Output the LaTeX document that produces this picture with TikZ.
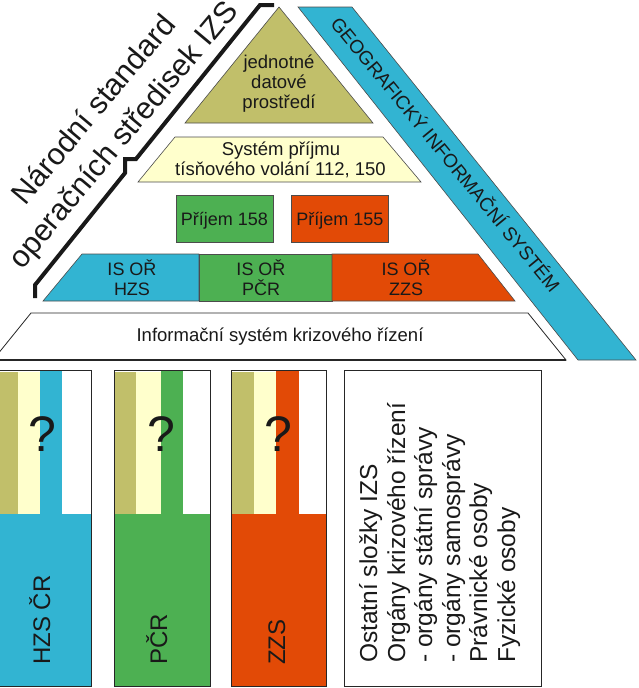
\documentclass[tikz,border=0pt]{standalone}
\usepackage{fontspec}
\setmainfont{Liberation Sans}
\definecolor{izsOlive}{RGB}{193,191,106}
\definecolor{izsYellow}{RGB}{255,255,204}
\definecolor{izsGreen}{RGB}{77,176,82}
\definecolor{izsRed}{RGB}{226,74,6}
\definecolor{izsBlue}{RGB}{50,180,210}
\definecolor{izsText}{RGB}{25,25,25}
\tikzset{
  edge/.style={draw=black!70, line width=0.6pt},
  txt/.style={inner sep=0pt, text=izsText, font=\fontsize{18.5}{20}\selectfont},
  qmark/.style={inner sep=0pt, text=izsText, font=\fontsize{50}{50}\selectfont},
  collabel/.style={inner sep=0pt, text=izsText, rotate=90, anchor=base west, font=\fontsize{24}{24}\selectfont},
  boxline/.style={inner sep=0pt, text=izsText, rotate=90, anchor=base west, font=\fontsize{24.5}{24.5}\selectfont},
  smallbox/.style={edge, minimum width=97pt, minimum height=47pt, inner sep=0pt, text=izsText,
     font=\fontsize{18}{18}\selectfont, text height=13pt, text depth=0pt},
}
\begin{document}
\begin{tikzpicture}[x=1pt,y=-1pt]
\useasboundingbox (0,0) rectangle (639,688);
\clip (0,0) rectangle (639,688);
% blue band
\draw[edge, fill=izsBlue] (298,7) -- (352,7) -- (636,360) -- (578,360) -- cycle;
\node[txt, font=\fontsize{19}{19}\selectfont, rotate=-50.6, anchor=base] (gis) at (440.2,158.8) {GEOGRAFICKÝ INFORMAČNÍ SYSTÉM};
% olive triangle
\draw[edge, fill=izsOlive] (279,7) -- (373,123) -- (185,123) -- cycle;
\node[txt, anchor=base] (jd1) at (279,68) {jednotné};
\node[txt, anchor=base] (jd2) at (279,88) {datové};
\node[txt, anchor=base] (jd3) at (279,108) {prostředí};
% yellow trapezoid
\draw[edge, fill=izsYellow] (175,137) -- (383,137) -- (421,182) -- (138,182) -- cycle;
\node[txt, anchor=base] (sp1) at (281,155) {Systém příjmu};
\node[txt, anchor=base] (sp2) at (280.5,175) {tísňového volání 112, 150};
% boxes
\node[smallbox, fill=izsGreen] (p158) at (224.5,218.5) {Příjem 158};
\node[smallbox, fill=izsRed] (p155) at (340,218.5) {Příjem 155};
% IS row
\draw[edge, fill=izsBlue] (82,254) -- (199,254) -- (199,301) -- (43,301) -- cycle;
\draw[edge, fill=izsGreen] (199,254) rectangle (332,301);
\draw[edge, fill=izsRed] (332,254) -- (478,254) -- (515,301) -- (332,301) -- cycle;
\node[txt, font=\fontsize{18}{18}\selectfont, anchor=base] (ish1) at (132,275) {IS OŘ};
\node[txt, font=\fontsize{18}{18}\selectfont, anchor=base] (ish2) at (132,295) {HZS};
\node[txt, font=\fontsize{18}{18}\selectfont, anchor=base] (isp1) at (261,275) {IS OŘ};
\node[txt, font=\fontsize{18}{18}\selectfont, anchor=base] (isp2) at (261,295) {PČR};
\node[txt, font=\fontsize{18}{18}\selectfont, anchor=base] (isz1) at (406,275) {IS OŘ};
\node[txt, font=\fontsize{18}{18}\selectfont, anchor=base] (isz2) at (406,295) {ZZS};
% white trapezoid
\draw[draw=black!85, line width=0.8pt, fill=white] (31,313) -- (528,313) -- (566,360) -- (-7,360) -- cycle;
\draw[draw=black!85, line width=1.6pt] (-7,360) -- (566,360);
\node[txt, anchor=base] (iskr) at (280,341) {Informační systém krizového řízení};
% left black line
\draw[line width=4pt, line join=miter, black!90] (35,298) -- (35,285) -- (125,173) -- (125,159) -- (136,159) -- (260,5) -- (274,5);
\node[txt, font=\fontsize{30.5}{30.5}\selectfont, rotate=50, anchor=base] (ns1) at (101.3,115.8) {Národní standard};
\node[txt, font=\fontsize{30.5}{30.5}\selectfont, rotate=50, anchor=base] (ns2) at (130.7,140.8) {operačních středisek IZS};
% column 1
\fill[izsBlue] (-5,514) rectangle (91,686);
\fill[izsOlive] (-5,372) rectangle (18,514);
\fill[izsYellow] (18,372) rectangle (40,514);
\fill[izsBlue] (40,370) rectangle (62,514);
\draw[black!85, line width=0.8pt] (-5,370) rectangle (91,686);
% column 2
\fill[izsGreen] (114,514) rectangle (210,686);
\fill[izsOlive] (114,372) rectangle (136,514);
\fill[izsYellow] (136,372) rectangle (161,514);
\fill[izsGreen] (161,370) rectangle (183,514);
\draw[black!85, line width=0.8pt] (114,370) rectangle (210,686);
% column 3
\fill[izsRed] (231,514) rectangle (326,686);
\fill[izsOlive] (231,372) rectangle (254,514);
\fill[izsYellow] (254,372) rectangle (276,514);
\fill[izsRed] (276,370) rectangle (299,514);
\draw[black!85, line width=0.8pt] (231,370) rectangle (326,686);
% box 4
\draw[black!85, line width=0.8pt, fill=white] (344,370) rectangle (541,686);
% question marks
\node[qmark] (q1) at (42,434) {?};
\node[qmark] (q2) at (161,434) {?};
\node[qmark] (q3) at (278.5,434) {?};
% column labels
\node[collabel] (c1) at (50,665) {HZS ČR};
\node[collabel] (c2) at (167,665) {PČR};
\node[collabel] (c3) at (285,665) {ZZS};
% box 4 lines
\node[boxline] (b1) at (377,663) {Ostatní  složky IZS};
\node[boxline] (b2) at (405,663) {Orgány krizového řízení};
\node[boxline] (b3) at (432,663) {- orgány státní správy};
\node[boxline] (b4) at (460,663) {- orgány samosprávy};
\node[boxline] (b5) at (487,663) {Právnické osoby};
\node[boxline] (b6) at (515,663) {Fyzické osoby};
\end{tikzpicture}
\end{document}
